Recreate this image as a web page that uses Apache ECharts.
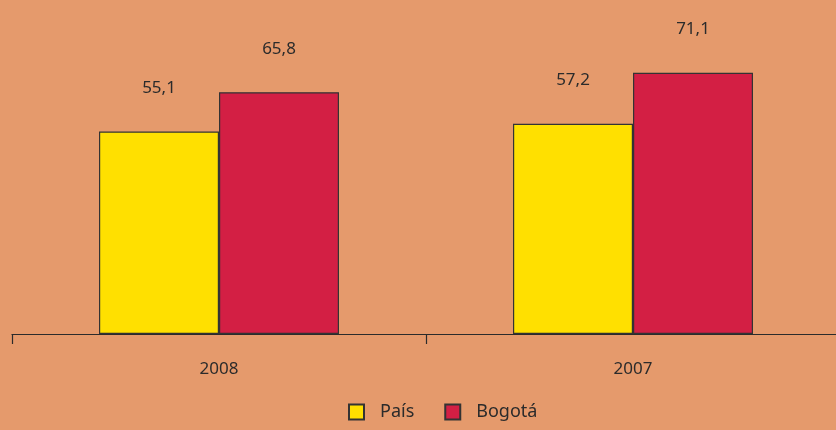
<!DOCTYPE html>
<html><head><meta charset="utf-8">
<script src="https://cdn.jsdelivr.net/npm/echarts@6/dist/echarts.min.js"></script>
<style>html,body{margin:0;padding:0;background:#E59A6C;overflow:hidden;}#c{width:840px;height:430px;}</style>
</head><body><div id="c"></div>
<script>
const categories = ['2008', '2007'];
const pais = [55.1, 57.2];
const bogota = [65.8, 71.1];
const seriesNames = ['País', 'Bogotá'];

const chart = echarts.init(document.getElementById('c'));
const fmt = p => String(p.value).replace('.', ',');
const labelCfg = {show: true, position: 'top', distance: 35, formatter: fmt, color: '#2b2b2b', fontSize: 17, fontFamily: 'Noto Sans'};
chart.setOption({
  backgroundColor: '#E59A6C',
  animation: false,
  grid: {left: 12, right: 0, top: 40, bottom: 96},
  legend: {
    bottom: 4, left: 343, itemWidth: 15, itemHeight: 15, itemGap: 30,
    icon: 'rect',
    textStyle: {color: '#2b2b2b', fontSize: 18, fontFamily: 'Noto Sans', padding: [0, 0, 0, 11]},
    data: seriesNames
  },
  xAxis: {
    type: 'category', data: categories,
    axisLine: {lineStyle: {color: '#2b2b2b', width: 1.2}},
    axisTick: {show: true, length: 10, lineStyle: {color: '#2b2b2b', width: 1.2}},
    axisLabel: {color: '#2b2b2b', fontSize: 17, fontFamily: 'Noto Sans', margin: 27}
  },
  yAxis: {type: 'value', min: 0, max: 80, show: false, splitLine: {show: false}},
  series: [
    {name: seriesNames[0], type: 'bar', data: pais, barWidth: 120, barGap: '0%',
     itemStyle: {color: '#FFE000', borderColor: '#333', borderWidth: 1.2}, label: labelCfg},
    {name: seriesNames[1], type: 'bar', data: bogota, barWidth: 120,
     itemStyle: {color: '#D31F44', borderColor: '#333', borderWidth: 1.2}, label: labelCfg}
  ]
});
</script></body></html>
